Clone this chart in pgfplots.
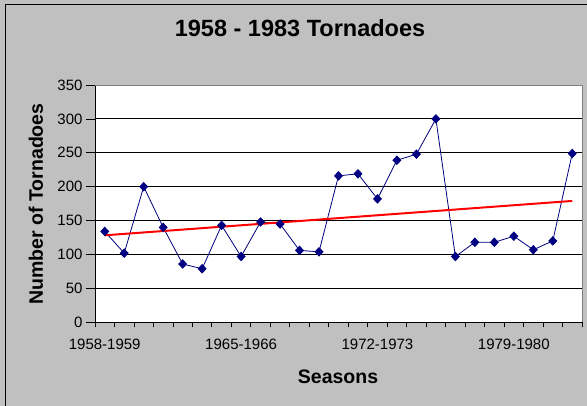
\documentclass[border=0pt]{standalone}
\usepackage{fontspec}
\setmainfont{Liberation Sans}
\usepackage{pgfplots}
\pgfplotsset{compat=1.18}
\definecolor{bg}{HTML}{C0C0C0}
\definecolor{navy}{HTML}{000080}
\definecolor{frame}{HTML}{808080}
\begin{document}
\begin{tikzpicture}[x=1pt,y=1pt]
\useasboundingbox (0,0) rectangle (587,-406);
\fill[bg] (0,0) rectangle (587,-406);
\draw[black,line width=1.3pt] (5.6,-406) -- (5.6,-4.6) -- (587,-4.6);
\begin{axis}[
  at={(95pt,-322.3pt)}, anchor=south west,
  scale only axis, width=487pt, height=237.3pt,
  xmin=-0.5, xmax=24.5, ymin=0, ymax=350,
  axis background/.style={fill=white},
  axis lines=left, axis line style={-, black, line width=0.9pt},
  tick align=outside,
  xtick={0,7,14,21},
  xticklabels={1958-1959,1965-1966,1972-1973,1979-1980},
  major x tick style={draw=none},
  minor xtick={-0.5,0.5,...,24.5},
  minor tick length=5pt,
  minor x tick style={black, line width=0.8pt},
  ytick={0,50,...,350},
  major tick length=9pt,
  y tick style={black, line width=0.8pt},
  ymajorgrids, grid style={black, line width=0.9pt},
  ticklabel style={font=\fontsize{15}{18}\selectfont},
  xticklabel style={yshift=-4.5pt},
  /pgf/number format/assume math mode=true,
  title={1958 - 1983 Tornadoes},
  title style={font=\bfseries\fontsize{23.5}{27}\selectfont, at={(axis description cs:0.421,1.181)}, anchor=base},
  xlabel={Seasons},
  xlabel style={font=\bfseries\fontsize{19.5}{23}\selectfont, at={(axis description cs:0.499,-0.26)}, anchor=base},
  ylabel={Number of Tornadoes},
  ylabel style={font=\bfseries\fontsize{19.5}{23}\selectfont, at={(axis description cs:-0.1068,0.4985)}, anchor=base},
  clip=false,
]
\draw[frame, line width=0.9pt] (rel axis cs:0,1) -- (rel axis cs:1,1) -- (rel axis cs:1,0);
\addplot[navy, line width=0.8pt, mark=diamond*, mark size=4.2pt, mark options={xscale=1.25, solid, fill=navy}] coordinates {
(0,134) (1,102) (2,200) (3,140) (4,86) (5,79) (6,143) (7,97) (8,148) (9,145)
(10,106) (11,104) (12,216) (13,219) (14,182) (15,239) (16,248) (17,300) (18,97) (19,118)
(20,118) (21,127) (22,107) (23,120) (24,249)
};
\addplot[red, line width=2pt] coordinates {(0,128.3) (24,179)};
\end{axis}
\end{tikzpicture}
\end{document}
